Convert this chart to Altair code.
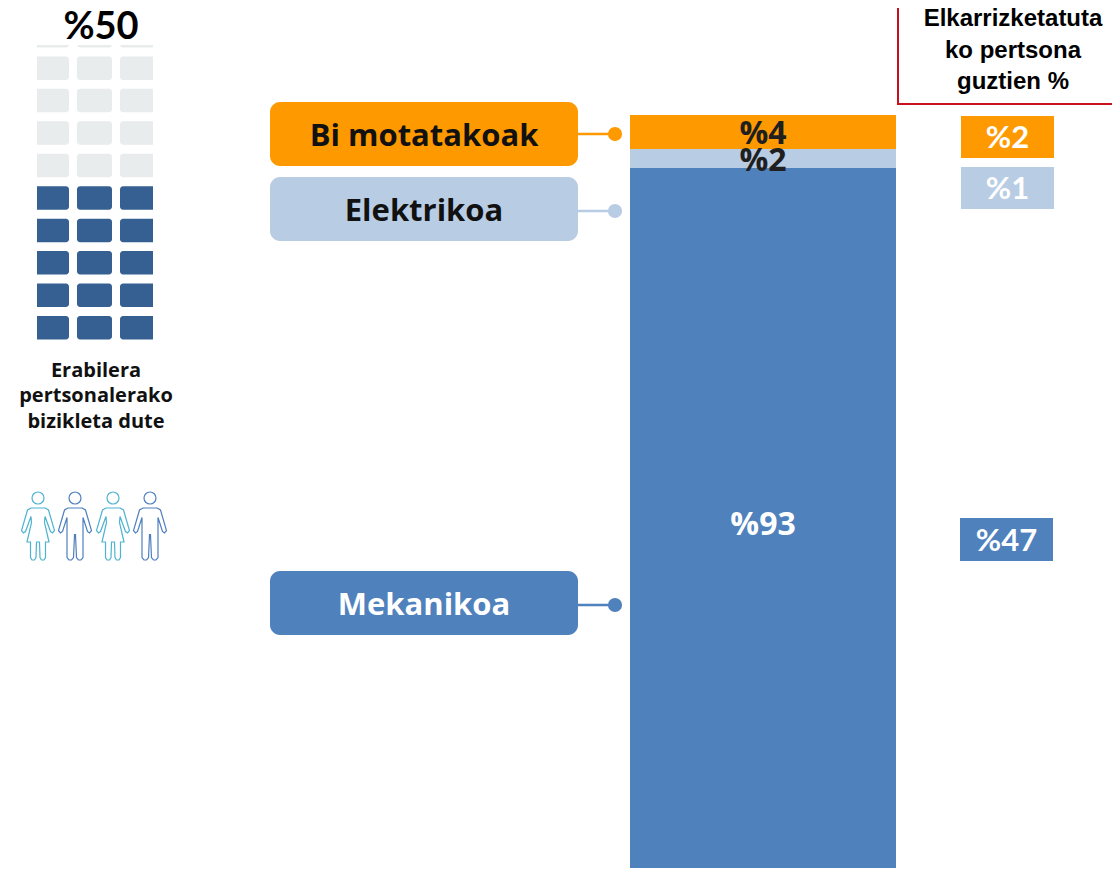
import altair as alt
import pandas as pd

# ---- values
categories = ["Mekanikoa", "Elektrikoa", "Bi motatakoak"]
segment_values = [93.06, 2.49, 4.45]
segment_labels = ["%93", "%2", "%4"]
all_people_labels = ["%47", "%1", "%2"]
colors = ["#4F81BD", "#B8CCE4", "#FF9900"]
label_colors = ["#FFFFFF", "#1F1F1F", "#1F1F1F"]
pill_text_colors = ["#FFFFFF", "#111111", "#111111"]
waffle_rows = 10
waffle_cols = 3
waffle_share = 50
waffle_title = "%50"
waffle_caption = ["Erabilera", "pertsonalerako", "bizikleta dute"]
header_lines = ["Elkarrizketatuta", "ko pertsona", "guztien %"]
people = ["woman", "man", "woman", "man"]

# ---- layout (page pixels; the page margin is 8px)
M = 8
W, H = 1104, 860
BAR_TOP, BAR_BOTTOM = 115, 878
PX_PER_UNIT = (BAR_BOTTOM - BAR_TOP) / 100
PILL_Y = [(571, 635), (177, 241), (102, 166)]
DOT_Y = [605, 211, 134]
BOX_Y = [(518, 561), (167, 209), (116, 158)]
BOX_X = [(960, 1053), (961, 1054), (961, 1054)]
SANS = "Open Sans"
GOTHIC = "Lato"
ARIAL = "Liberation Sans"


def rects(rows, **mark):
    df = pd.DataFrame(rows, columns=["x0", "x1", "y0", "y1", "fill"])
    df[["x0", "x1"]] -= M
    df[["y0", "y1"]] -= M
    return alt.Chart(df).mark_rect(**mark).encode(
        x=alt.X("x0:Q", scale=None, axis=None),
        x2="x1:Q",
        y=alt.Y("y0:Q", scale=None, axis=None),
        y2="y1:Q",
        color=alt.Color("fill:N", scale=None, legend=None),
    )


def texts(rows, **mark):
    df = pd.DataFrame(rows, columns=["x", "y", "t", "fill"])
    df["x"] -= M
    df["y"] -= M
    return alt.Chart(df).mark_text(baseline="middle", align="center", **mark).encode(
        x=alt.X("x:Q", scale=None, axis=None),
        y=alt.Y("y:Q", scale=None, axis=None),
        text="t:N",
        color=alt.Color("fill:N", scale=None, legend=None),
    )


# ---- stacked bar, through a real scale
starts = [sum(segment_values[:i]) for i in range(len(segment_values))]
bar_df = pd.DataFrame({
    "category": categories,
    "y0": starts,
    "y1": [s + v for s, v in zip(starts, segment_values)],
    "mid": [s + v / 2 for s, v in zip(starts, segment_values)],
    "label": segment_labels,
    "fill": colors,
    "ink": label_colors,
})
y_scale = alt.Scale(
    domain=[(BAR_BOTTOM - (H + M)) / PX_PER_UNIT, (BAR_BOTTOM - M) / PX_PER_UNIT],
    range=[H, 0], nice=False, zero=False,
)
bar = alt.Chart(bar_df).mark_rect(clip=True).encode(
    x=alt.value(630 - M),
    x2=alt.value(896 - M),
    y=alt.Y("y0:Q", scale=y_scale, axis=None),
    y2="y1:Q",
    color=alt.Color("fill:N", scale=None, legend=None),
)
bar_text = alt.Chart(bar_df).mark_text(font=SANS, fontWeight="bold", fontSize=32, baseline="middle", dy=2.5).encode(
    x=alt.value(763 - M),
    y=alt.Y("mid:Q", scale=y_scale, axis=None),
    text="label:N",
    color=alt.Color("ink:N", scale=None, legend=None),
)

# ---- waffle
col_x = [(37, 69), (77, 112), (120, 153)]
ROW_PITCH = 32.45
LAST_TOP = 316
dark_rows = waffle_rows * waffle_share // 100
cells = {0: [], 1: [], 2: []}
for r in range(waffle_rows):
    y0 = LAST_TOP - r * ROW_PITCH
    fill = "#376092" if r < dark_rows else "#E9ECEC"
    for c in range(waffle_cols):
        cells[c].append((col_x[c][0], col_x[c][1], y0, y0 + 23.5, fill))
waffle = [
    rects(cells[0], cornerRadiusTopRight=3, cornerRadiusBottomRight=3),
    rects(cells[1], cornerRadius=3),
    rects(cells[2], cornerRadiusTopLeft=3, cornerRadiusBottomLeft=3),
    rects([(30, 160, 8, 45, "#FFFFFF")]),
]

# ---- people icons (outlines in pixels around the figure's centre)
ICON = 34.5


def p(x, y):
    return f"{x / ICON:.3f} {y / ICON:.3f}"


def head():
    r = 6
    return f"M{p(-r, -28.5)}A{r / ICON:.3f} {r / ICON:.3f} 0 1 1 {p(r, -28.5)}A{r / ICON:.3f} {r / ICON:.3f} 0 1 1 {p(-r, -28.5)}Z"


def person(kind):
    if kind == "man":
        half = [(7, -18.5), (10.5, -16.5), (16.5, 4), (14.5, 6.5), (12.5, 5), (8, -9), (8, 31), (6, 33.5), (3.5, 33.5), (1.5, 31), (0.5, 8)]
    else:
        half = [(7, -18.5), (10.5, -16.5), (16.5, 4), (14.5, 6.5), (12.5, 5), (7, -10), (6.5, -4), (11, 15.5), (7.5, 15.5), (7.5, 31), (6, 33.5), (3.5, 33.5), (2, 31), (1.5, 15.5), (0, 15.5)]
    pts = half + [(-x, y) for x, y in reversed(half)]
    return head() + "M" + "L".join(p(x, y) for x, y in pts) + "Z"


icon_centres = [38, 75, 113, 150]
icon_colors = ["#4FB3CF" if k == "woman" else "#4F7FBF" for k in people]
icons = [
    alt.Chart(pd.DataFrame({"k": [k]})).mark_point(
        shape=person(k), size=(2 * ICON) ** 2, filled=False, stroke=c, strokeWidth=1.2, opacity=1
    ).encode(x=alt.value(cx - M), y=alt.value(526.5 - M))
    for k, c, cx in zip(people, icon_colors, icon_centres)
]

# ---- pills, connectors, dots
pills = rects([(270, 578, a, b, c) for (a, b), c in zip(PILL_Y, colors)], cornerRadius=10)
lines_df = pd.DataFrame({
    "x0": [578 - M] * 3, "x1": [615 - M] * 3,
    "y": [d - M for d in DOT_Y], "fill": colors,
})
connectors = alt.Chart(lines_df).mark_rule(strokeWidth=2.5).encode(
    x=alt.X("x0:Q", scale=None, axis=None), x2="x1:Q",
    y=alt.Y("y:Q", scale=None, axis=None),
    color=alt.Color("fill:N", scale=None, legend=None),
)
dots = alt.Chart(lines_df).mark_circle(size=200, opacity=1).encode(
    x=alt.X("x1:Q", scale=None, axis=None),
    y=alt.Y("y:Q", scale=None, axis=None),
    color=alt.Color("fill:N", scale=None, legend=None),
)
pill_text = texts(
    [(424, (a + b) / 2 + 3, t, c) for (a, b), t, c in zip(PILL_Y, categories, pill_text_colors)],
    font=SANS, fontWeight="bold", fontSize=31,
)

# ---- right column
boxes = rects([(x[0], x[1], y[0], y[1], c) for x, y, c in zip(BOX_X, BOX_Y, colors)])
box_text = texts(
    [((x[0] + x[1]) / 2, (y[0] + y[1]) / 2 + 2, t, "#FFFFFF") for x, y, t in zip(BOX_X, BOX_Y, all_people_labels)],
    font=GOTHIC, fontWeight="bold", fontSize=31,
)
frame = pd.DataFrame({"x": [898 - M, 898 - M, W], "y": [0, 104 - M, 104 - M], "o": [0, 1, 2]})
header_frame = alt.Chart(frame).mark_line(stroke="#C8101E", strokeWidth=2, clip=False).encode(
    x=alt.X("x:Q", scale=None, axis=None),
    y=alt.Y("y:Q", scale=None, axis=None),
    order="o:Q",
)
header = texts(
    [(1013, yy, t, "#000000") for yy, t in zip([19, 51, 82], header_lines)],
    font=ARIAL, fontWeight="bold", fontSize=24,
)

# ---- left texts
title = texts([(101, 28, waffle_title, "#000000")], font=GOTHIC, fontWeight="bold", fontSize=38)
caption = texts(
    [(96, yy, t, "#111111") for yy, t in zip([371, 396, 422], waffle_caption)],
    font=SANS, fontWeight="bold", fontSize=20,
)

chart = alt.layer(
    bar, bar_text, *waffle, title, caption, *icons,
    pills, connectors, dots, pill_text, boxes, box_text, header_frame, header,
).resolve_scale(x="independent", y="independent", color="independent").properties(
    width=W, height=H, padding=0, autosize=alt.AutoSizeParams(type="none"),
).configure_view(stroke=None)

chart.save("out.html", embed_options={"renderer": "svg", "actions": False})
